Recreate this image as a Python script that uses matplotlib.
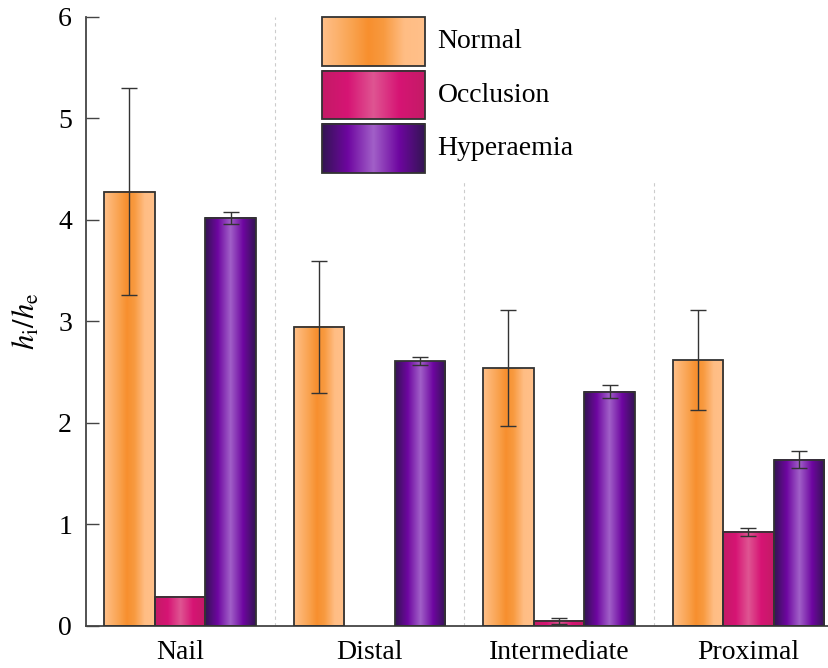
import numpy as np
import matplotlib
matplotlib.use("Agg")
import matplotlib.pyplot as plt
from matplotlib.colors import LinearSegmentedColormap

plt.rcParams["font.family"] = ["Liberation Serif", "DejaVu Serif"]
plt.rcParams["mathtext.fontset"] = "stix"

categories = ["Nail", "Distal", "Intermediate", "Proximal"]
series = ["Normal", "Occlusion", "Hyperaemia"]

normal = [4.28, 2.95, 2.54, 2.62]
normal_err = [1.02, 0.65, 0.57, 0.49]
occlusion = [0.29, 0.0, 0.05, 0.93]
occlusion_err = [0.0, 0.0, 0.03, 0.04]
hyperaemia = [4.02, 2.61, 2.31, 1.64]
hyperaemia_err = [0.06, 0.04, 0.06, 0.08]

# horizontal gradient stops for each series (edge -> centre -> edge)
gradients = {
    "Normal": [(0.0, "#ffc08a"), (0.3, "#f9a24e"), (0.45, "#f78f2e"),
               (0.6, "#f89a40"), (0.8, "#ffbd84"), (1.0, "#ffc08a")],
    "Occlusion": [(0.0, "#c41b66"), (0.25, "#d61474"), (0.5, "#df5592"),
                  (0.75, "#d61474"), (1.0, "#c41b66")],
    "Hyperaemia": [(0.0, "#331552"), (0.25, "#6e06a0"), (0.5, "#a160c8"),
                   (0.75, "#6e06a0"), (1.0, "#331552")],
}
cmaps = {k: LinearSegmentedColormap.from_list(k, v) for k, v in gradients.items()}
grad = np.linspace(0, 1, 256).reshape(1, -1)

fig = plt.figure(figsize=(8.29, 6.68), dpi=100)
ax = fig.add_axes([0.1037, 0.0629, 0.8963, 0.9117])

x = np.arange(len(categories))
width = 0.267
edge = "#333333"

data = [(normal, normal_err), (occlusion, occlusion_err), (hyperaemia, hyperaemia_err)]
for i, (name, (vals, errs)) in enumerate(zip(series, data)):
    pos = x + (i - 1) * width
    bars = ax.bar(pos, vals, width, fill=False, edgecolor=edge, linewidth=1.3, zorder=3)
    for b, v in zip(bars, vals):
        if v <= 0:
            b.set_visible(False)
            continue
        ax.imshow(grad, cmap=cmaps[name], aspect="auto", zorder=2,
                  extent=(b.get_x(), b.get_x() + b.get_width(), 0, b.get_height()))
    for p, v, e in zip(pos, vals, errs):
        if e > 0:
            ax.errorbar(p, v, yerr=e, fmt="none", ecolor="#333333", elinewidth=1.0,
                        capsize=6, capthick=1.0, zorder=4)

# dashed group separators
ax.vlines([0.5], 0, 6, colors="#cccccc", linestyles=(0, (3, 3)), linewidth=0.8, zorder=1)
ax.vlines([1.5, 2.5], 0, 4.37, colors="#cccccc", linestyles=(0, (3, 3)), linewidth=0.8, zorder=1)

# legend drawn in data space with gradient swatches
leg_x0, leg_x1 = 0.75, 1.293
leg_boxes = [(5.52, 6.0), (4.99, 5.47), (4.46, 4.95)]
for name, (y0, y1) in zip(series, leg_boxes):
    ax.imshow(grad, cmap=cmaps[name], aspect="auto", zorder=5,
              extent=(leg_x0, leg_x1, y0, y1))
    ax.add_patch(plt.Rectangle((leg_x0, y0), leg_x1 - leg_x0, y1 - y0, fill=False,
                               edgecolor=edge, linewidth=1.3, zorder=6, clip_on=False))
    ax.text(1.36, (y0 + y1) / 2, name, fontsize=20, va="center", ha="left", zorder=6)

ax.set_xlim(-0.496, 3.425)
ax.set_ylim(0, 6)
ax.set_xticks(x)
ax.set_xticklabels(categories, fontsize=20)
ax.tick_params(axis="x", length=0, pad=10)
ax.set_yticks(range(0, 7))
ax.tick_params(axis="y", direction="in", length=9, width=1.0, labelsize=20, pad=10,
               color="#444444")
ax.set_ylabel(r"$h_\mathrm{i}/h_\mathrm{e}$", fontsize=22, labelpad=12)

for s in ["top", "right"]:
    ax.spines[s].set_visible(False)
for s in ["left", "bottom"]:
    ax.spines[s].set_color("#444444")
    ax.spines[s].set_linewidth(1.3)

fig.savefig("out.png", dpi=100)
